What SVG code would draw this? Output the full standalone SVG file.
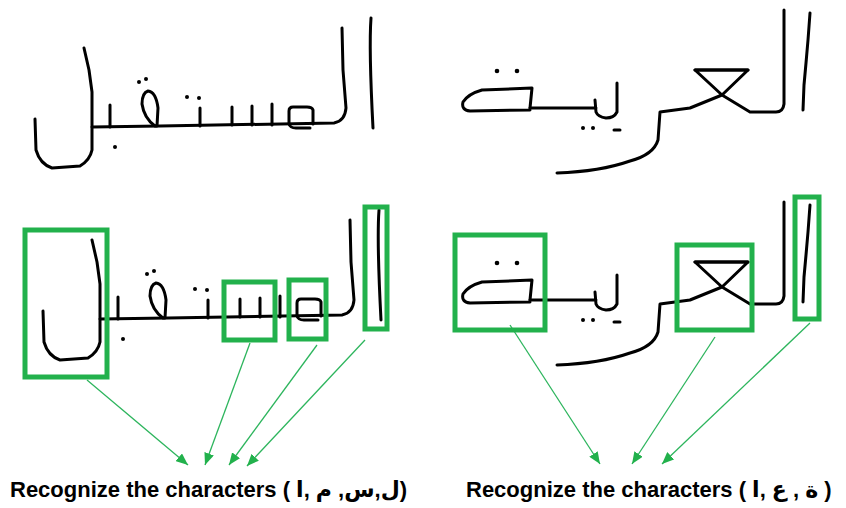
<svg xmlns="http://www.w3.org/2000/svg" xmlns:xlink="http://www.w3.org/1999/xlink" width="846" height="508" viewBox="0 0 846 508">
  <style>
    .ink { fill: none; stroke: #000; stroke-width: 3; stroke-linecap: round; stroke-linejoin: round; }
    .dot { fill: #000; }
    .box { fill: none; stroke: #22B14C; stroke-width: 5; }
    .link { fill: none; stroke: #2DB55D; stroke-width: 1.3; }
    .label { font-family: "Liberation Sans", "DejaVu Sans", sans-serif; font-weight: bold; font-size: 22px; fill: #000; }
  </style>
  <defs>
    <marker id="head" viewBox="0 0 12 10" refX="12" refY="5" markerWidth="12" markerHeight="10" markerUnits="userSpaceOnUse" orient="auto">
      <path d="M0,0 L12,5 L0,10 z" fill="#22B14C"/>
    </marker>
    <!-- handwritten word: al-mustaqbal -->
    <g id="word-mustaqbal">
      <path class="ink" d="M371,18 C369,45 371,90 373,128" stroke-width="3.5"/>
      <path class="ink" d="M342,28 L343,70 L346,108 Q345,121 334,123 L160,126 L92,127"/>
      <path class="ink" d="M313,124 L313,110 Q312,107 307,107 L293,107 Q289,107 289,111 L289,124 Q290,128 296,128 L310,128"/>
      <path class="ink" d="M272,125 L272,104 M252,125 L252,106 M232,125 L232,107 M200,126 L200,108"/>
      <circle class="dot" cx="187" cy="97" r="2"/>
      <circle class="dot" cx="199" cy="98" r="2"/>
      <path class="ink" d="M157,126 L158,108 Q156,92 148,91 Q142,93 142,104 Q144,118 155,126"/>
      <circle class="dot" cx="139" cy="82" r="2"/>
      <circle class="dot" cx="146" cy="79" r="2"/>
      <path class="ink" d="M110,105 L110,127"/>
      <circle class="dot" cx="115" cy="147" r="2"/>
      <path class="ink" d="M84,48 L89,70 L92,92 L92,150 Q90,160 80,166 L52,168 Q40,164 36,150 L35,119"/>
    </g>
    <!-- handwritten word: al-arabiya -->
    <g id="word-arabiya">
      <path class="ink" d="M810,13 L808,40 L806,63 L804,85 L803,110"/>
      <path class="ink" d="M784,10 L784,40 L784,104 Q783,112 776,112 L750,112 L722,95 L695,70 L748,70 L722,95 L690,108 L660,112 L658,140 C655,150 645,157 630,161 C610,168 585,172 557,173"/>
      <path class="ink" d="M695,70 L748,70" stroke-width="5"/>
      <path class="ink" d="M617,83 L617,112 Q614,118 606,118 Q598,117 596,112 L595,100 M596,108 L530,108"/>
      <path class="ink" d="M530,108 L532,88 L482,90 Q468,94 463,102 Q461,110 470,111 L530,110"/>
      <circle class="dot" cx="497" cy="71" r="2.3"/>
      <circle class="dot" cx="517" cy="71" r="2.3"/>
      <circle class="dot" cx="583" cy="128" r="2"/>
      <circle class="dot" cx="593" cy="128" r="2"/>
      <path class="ink" d="M614,130 L620,130" stroke-width="2"/>
    </g>
  </defs>

  <!-- source words -->
  <g id="top-left-word"><use xlink:href="#word-mustaqbal"/></g>
  <g id="top-right-word"><use xlink:href="#word-arabiya"/></g>

  <!-- segmented words -->
  <g id="bottom-left-word"><use xlink:href="#word-mustaqbal" transform="translate(8,192)"/></g>
  <g id="bottom-right-word"><use xlink:href="#word-arabiya" transform="translate(0,192)"/></g>

  <!-- connectors -->
  <g id="connectors">
    <line class="link" x1="87" y1="380" x2="188" y2="465" marker-end="url(#head)"/>
    <line class="link" x1="250" y1="343" x2="205" y2="465" marker-end="url(#head)"/>
    <line class="link" x1="317" y1="345" x2="229" y2="465" marker-end="url(#head)"/>
    <line class="link" x1="365" y1="340" x2="247" y2="466" marker-end="url(#head)"/>
    <line class="link" x1="510" y1="325" x2="600" y2="464" marker-end="url(#head)"/>
    <line class="link" x1="715" y1="337" x2="632" y2="464" marker-end="url(#head)"/>
    <line class="link" x1="810" y1="323" x2="662" y2="464" marker-end="url(#head)"/>
  </g>

  <!-- character boxes -->
  <g id="box-lam"><rect class="box" x="25" y="230" width="82" height="147"/></g>
  <g id="box-seen"><rect class="box" x="224" y="282" width="51" height="58"/></g>
  <g id="box-meem"><rect class="box" x="289" y="280" width="37" height="59"/></g>
  <g id="box-alif-left"><rect class="box" x="365" y="207" width="22" height="122"/></g>
  <g id="box-taa"><rect class="box" x="455" y="235" width="90" height="95"/></g>
  <g id="box-ain"><rect class="box" x="677" y="245" width="75" height="85"/></g>
  <g id="box-alif-right"><rect class="box" x="795" y="197" width="24" height="122"/></g>

  <!-- labels -->
  <g id="label-left">
    <text class="label" x="10" y="497" direction="ltr" unicode-bidi="bidi-override">Recognize the characters ( ا, م ,س,ل)</text>
  </g>
  <g id="label-right">
    <text class="label" x="466" y="497" direction="ltr" unicode-bidi="bidi-override">Recognize the characters ( ا, ع , ة )</text>
  </g>
</svg>
